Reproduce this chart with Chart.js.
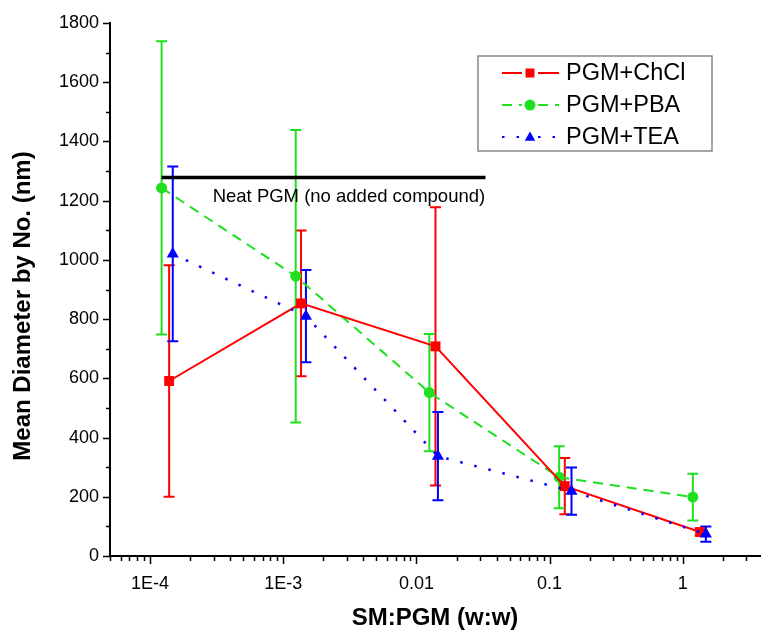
<!DOCTYPE html>
<html>
<head>
<meta charset="utf-8">
<script src="https://cdn.jsdelivr.net/npm/chart.js@4.4.1/dist/chart.umd.min.js"></script>
<style>
  html, body { margin: 0; padding: 0; background: #fff; }
</style>
</head>
<body>
<canvas id="grafico" width="767" height="633"></canvas>
<script>
// valores
const xChCl = [1.39e-4, 1.36e-3, 0.0139, 0.130, 1.35];
const yChCl = [591, 853, 708, 236, 81];
const errChCl = [391, 246, 470, 95, 12];

const xPBA = [1.22e-4, 1.24e-3, 0.0125, 0.118, 1.19];
const yPBA = [1243, 945, 552, 266, 199];
const errPBA = [495, 494, 198, 105, 79];

const xTEA = [1.48e-4, 1.48e-3, 0.0145, 0.146, 1.49];
const yTEA = [1020, 810, 337, 219, 74];
const errTEA = [295, 156, 149, 80, 26];

const neatX = [1.22e-4, 0.033];
const neatY = [1278, 1278];

const xTickValues = [1e-4, 1e-3, 0.01, 0.1, 1];
const xTickLabels = ['1E-4', '1E-3', '0.01', '0.1', '1'];

const FONT = '"Liberation Sans", Arial, sans-serif';

function puntos(xs, ys) {
  return xs.map((x, i) => ({ x: x, y: ys[i] }));
}

// todas las marcas del eje log (menores y mayores)
const xMarcas = [];
for (let d = -5; d <= 0; d++) {
  for (let m = 1; m <= 9; m++) {
    const v = m * Math.pow(10, d);
    if (v >= 5e-5 * 0.999 && v <= 3.8) xMarcas.push(v);
  }
}

function dibujarMarcador(ctx, estilo, x, y, r, color) {
  ctx.fillStyle = color;
  ctx.beginPath();
  if (estilo === 'rect') {
    ctx.rect(x - r, y - r, 2 * r, 2 * r);
  } else if (estilo === 'circle') {
    ctx.arc(x, y, r, 0, Math.PI * 2);
  } else {
    ctx.moveTo(x, y - r);
    ctx.lineTo(x + r * 0.95, y + r * 0.7);
    ctx.lineTo(x - r * 0.95, y + r * 0.7);
    ctx.closePath();
  }
  ctx.fill();
}

const barrasError = {
  id: 'barrasError',
  beforeDatasetsDraw(chart) {
    const { ctx, scales: { x, y } } = chart;
    chart.data.datasets.forEach(ds => {
      if (!ds.errores) return;
      ctx.save();
      ctx.strokeStyle = ds.borderColor;
      ctx.lineWidth = 2;
      ds.data.forEach((p, i) => {
        const px = x.getPixelForValue(p.x);
        const arriba = y.getPixelForValue(p.y + ds.errores[i]);
        const abajo = y.getPixelForValue(p.y - ds.errores[i]);
        ctx.beginPath();
        ctx.moveTo(px, arriba); ctx.lineTo(px, abajo);
        ctx.moveTo(px - 5.5, arriba); ctx.lineTo(px + 5.5, arriba);
        ctx.moveTo(px - 5.5, abajo); ctx.lineTo(px + 5.5, abajo);
        ctx.stroke();
      });
      ctx.restore();
    });
  }
};

const extras = {
  id: 'extras',
  afterDraw(chart) {
    const { ctx, scales: { x, y } } = chart;
    const base = y.getPixelForValue(0);
    const izq = x.left;
    ctx.save();
    ctx.strokeStyle = '#000';
    ctx.lineWidth = 1.5;
    // marcas del eje x
    x.ticks.forEach(t => {
      const px = Math.round(x.getPixelForValue(t.value)) + 0.5;
      const lg = Math.log10(t.value);
      const mayor = Math.abs(lg - Math.round(lg)) < 1e-6;
      ctx.beginPath();
      ctx.moveTo(px, base);
      ctx.lineTo(px, base + (mayor ? 8 : 5));
      ctx.stroke();
    });
    // marcas del eje y
    y.ticks.forEach(t => {
      const py = Math.round(y.getPixelForValue(t.value)) + 0.5;
      const mayor = t.value % 200 === 0;
      ctx.beginPath();
      ctx.moveTo(izq, py);
      ctx.lineTo(izq - (mayor ? 7 : 4), py);
      ctx.stroke();
    });

    // titulo eje y
    ctx.save();
    ctx.translate(23, 306);
    ctx.rotate(-Math.PI / 2);
    ctx.fillStyle = '#000';
    ctx.font = 'bold 24px ' + FONT;
    ctx.textAlign = 'center';
    ctx.textBaseline = 'middle';
    ctx.fillText('Mean Diameter by No. (nm)', 0, 0);
    ctx.restore();

    // texto de la linea de referencia
    ctx.fillStyle = '#000';
    ctx.font = '18.5px ' + FONT;
    ctx.textAlign = 'left';
    ctx.textBaseline = 'middle';
    ctx.fillText('Neat PGM (no added compound)', x.getPixelForValue(2.95e-4), y.getPixelForValue(1213));

    // leyenda
    ctx.fillStyle = '#fff';
    ctx.fillRect(478, 56, 234, 95);
    ctx.strokeStyle = '#888';
    ctx.lineWidth = 1.5;
    ctx.strokeRect(478, 56, 234, 95);
    chart.data.datasets.filter(ds => ds.enLeyenda).forEach((ds, i) => {
      const fy = 73 + i * 32;
      ctx.strokeStyle = ds.borderColor;
      ctx.lineWidth = 2;
      ctx.setLineDash(ds.borderDash || []);
      ctx.beginPath();
      ctx.moveTo(502, fy); ctx.lineTo(522, fy);
      ctx.moveTo(538, fy); ctx.lineTo(559, fy);
      ctx.stroke();
      ctx.setLineDash([]);
      dibujarMarcador(ctx, ds.pointStyle, 530, fy, ds.pointStyle === 'rect' ? 4.5 : 5.5, ds.borderColor);
      ctx.fillStyle = '#000';
      ctx.font = '23.5px ' + FONT;
      ctx.fillText(ds.label, 566, fy + 1);
    });
    ctx.restore();
  }
};

new Chart(document.getElementById('grafico').getContext('2d'), {
  type: 'line',
  data: {
    datasets: [
      {
        label: 'PGM+ChCl', data: puntos(xChCl, yChCl), errores: errChCl, enLeyenda: true,
        borderColor: '#ff0000', backgroundColor: '#ff0000', borderWidth: 2,
        pointStyle: 'rect', pointRadius: 7, pointBorderWidth: 0, order: 1
      },
      {
        label: 'PGM+PBA', data: puntos(xPBA, yPBA), errores: errPBA, enLeyenda: true,
        borderColor: '#1ee01e', backgroundColor: '#1ee01e', borderWidth: 2, borderDash: [10, 7],
        pointStyle: 'circle', pointRadius: 5.5, pointBorderWidth: 0, order: 2
      },
      {
        label: 'PGM+TEA', data: puntos(xTEA, yTEA), errores: errTEA, enLeyenda: true,
        borderColor: '#0000ff', backgroundColor: '#0000ff', borderWidth: 2.5, borderDash: [2.5, 12],
        pointStyle: 'triangle', pointRadius: 7, pointBorderWidth: 0, order: 0
      },
      {
        label: 'Neat PGM', data: puntos(neatX, neatY),
        borderColor: '#000', borderWidth: 3.5, pointRadius: 0, order: 3
      }
    ]
  },
  options: {
    responsive: false,
    animation: false,
    devicePixelRatio: 1,
    layout: { padding: { top: 23, right: 0, left: 0, bottom: 0 } },
    plugins: { legend: { display: false }, tooltip: { enabled: false } },
    scales: {
      x: {
        type: 'logarithmic', min: 5e-5, max: 3.8,
        grid: { display: false, drawTicks: false },
        border: { display: true, color: '#000', width: 2 },
        afterBuildTicks: s => { s.ticks = xMarcas.map(v => ({ value: v })); },
        afterFit: s => { s.height = 77; s.paddingLeft = 0; s.paddingRight = 0; },
        ticks: {
          autoSkip: false, maxRotation: 0, padding: 17, color: '#000',
          font: { family: FONT, size: 18 },
          callback: v => {
            const i = xTickValues.findIndex(t => Math.abs(t - v) / t < 1e-6);
            return i >= 0 ? xTickLabels[i] : '';
          }
        },
        title: {
          display: true, text: 'SM:PGM (w:w)', color: '#000',
          font: { family: FONT, size: 24, weight: 'bold' }, padding: { top: 0, bottom: 0 }
        }
      },
      y: {
        min: 0, max: 1800,
        grid: { display: false, drawTicks: false },
        border: { display: true, color: '#000', width: 2 },
        afterFit: s => { s.width = 110; s.paddingTop = 0; s.paddingBottom = 0; },
        ticks: {
          stepSize: 100, padding: 11, color: '#000',
          font: { family: FONT, size: 18 },
          callback: v => (v % 200 === 0 ? String(v) : '')
        }
      }
    }
  },
  plugins: [barrasError, extras]
});
</script>
</body>
</html>
